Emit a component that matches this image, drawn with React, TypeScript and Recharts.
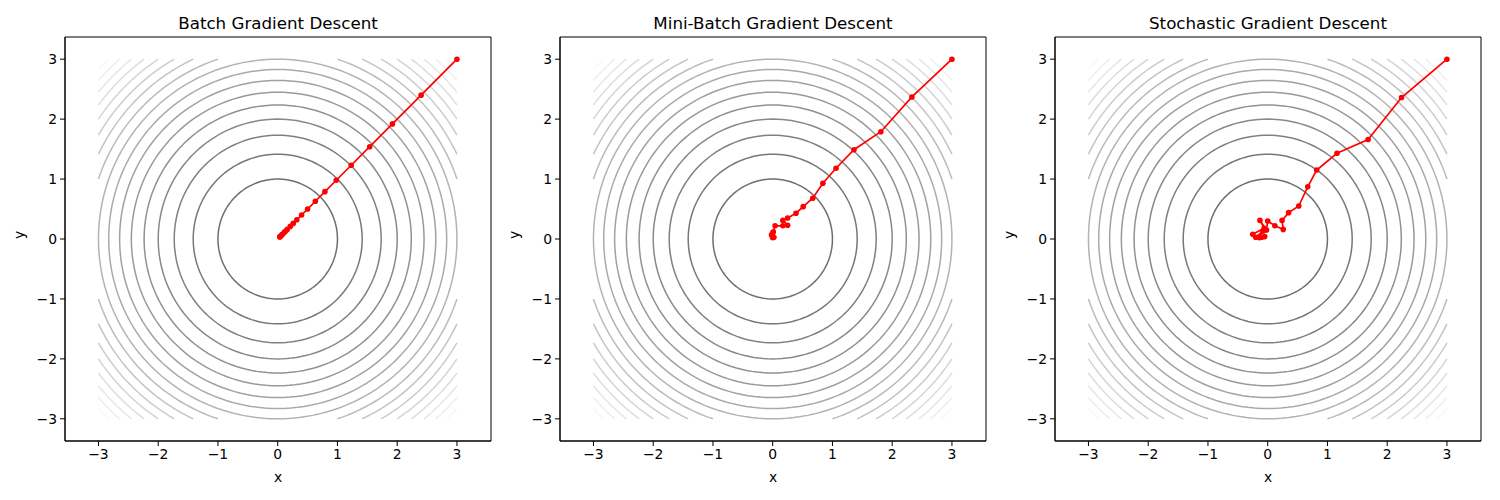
import { LineChart, Line, XAxis, YAxis, Label, ReferenceArea } from 'recharts'

// contour levels of f(x, y) = x^2 + y^2
const levels = [1, 2, 3, 4, 5, 6, 7, 8, 9, 10, 11, 12, 13, 14, 15, 16, 17]
const ticks = [-3, -2, -1, 0, 1, 2, 3]

const batchPath = [
  [3, 3], [2.4, 2.4], [1.92, 1.92], [1.54, 1.54], [1.23, 1.23], [0.98, 0.98],
  [0.79, 0.79], [0.63, 0.63], [0.5, 0.5], [0.4, 0.4], [0.32, 0.32], [0.26, 0.26],
  [0.21, 0.21], [0.16, 0.16], [0.13, 0.13], [0.11, 0.11], [0.08, 0.08],
  [0.07, 0.07], [0.05, 0.05], [0.04, 0.04], [0.035, 0.035],
]

const miniBatchPath = [
  [3, 3], [2.33, 2.37], [1.81, 1.79], [1.36, 1.49], [1.06, 1.18], [0.84, 0.93],
  [0.67, 0.68], [0.51, 0.54], [0.39, 0.43], [0.25, 0.35], [0.17, 0.31],
  [0.25, 0.23], [0.17, 0.22], [0.04, 0.22], [0.01, 0.12], [-0.02, 0.07],
  [0.0, 0.1], [0.02, 0.03], [-0.01, 0.05], [0.0, 0.02],
]

const sgdPath = [
  [3, 3], [2.24, 2.36], [1.68, 1.66], [1.16, 1.43], [0.82, 1.15], [0.67, 0.87],
  [0.52, 0.55], [0.35, 0.44], [0.24, 0.31], [0.26, 0.16], [0.12, 0.22],
  [0.0, 0.3], [-0.02, 0.15], [-0.13, 0.31], [-0.06, 0.18], [-0.25, 0.08],
  [-0.2, 0.03], [-0.08, 0.13], [-0.14, 0.02], [-0.05, 0.04], [-0.1, 0.03],
]

const panels = [
  { title: 'Batch Gradient Descent', path: batchPath },
  { title: 'Mini-Batch Gradient Descent', path: miniBatchPath },
  { title: 'Stochastic Gradient Descent', path: sgdPath },
]

const LIM = 3
const XDOM = [-3.56, 3.57]
const YDOM = [-3.37, 3.37]

// circle of a level, clipped to the [-3, 3] square of the grid
function contourArcs(level: number) {
  const r = Math.sqrt(level)
  const arcs: { x: number; y: number }[][] = []
  const arc = (a0: number, a1: number, n: number) => {
    const pts = []
    for (let i = 0; i <= n; i++) {
      const t = a0 + ((a1 - a0) * i) / n
      pts.push({ x: r * Math.cos(t), y: r * Math.sin(t) })
    }
    return pts
  }
  if (r <= LIM) {
    arcs.push(arc(0, Math.PI * 2, 160))
  } else {
    const a0 = Math.acos(LIM / r)
    const a1 = Math.asin(LIM / r)
    for (let q = 0; q < 4; q++) {
      arcs.push(arc(q * Math.PI / 2 + a0, q * Math.PI / 2 + a1, 40))
    }
  }
  return arcs
}

// gray colormap with alpha 0.6 over white
const levelColor = (level: number) => {
  const v = Math.round(255 * level / 18)
  const c = Math.round(0.6 * v + 0.4 * 255)
  return `rgb(${c},${c},${c})`
}

const fmt = (v: number) => String(v).replace('-', '\u2212')

function Panel({ title, path, left }: { title: string; path: number[][]; left: number }) {
  const pathData = path.map(([x, y]) => ({ x, y }))
  return (
    <div style={{ position: 'absolute', left, top: 0, width: 500, height: 500 }}>
      <div style={{ position: 'absolute', left: 65, width: 426, top: 13, textAlign: 'center', fontSize: 16.7 }}>
        {title}
      </div>
      <LineChart width={500} height={500} margin={{ top: 37, right: 9, left: 20, bottom: 19 }}>
        <XAxis
          type="number"
          dataKey="x"
          domain={XDOM}
          ticks={ticks}
          allowDataOverflow
          tickFormatter={fmt}
          height={40}
          tickSize={5}
          tickMargin={3}
          stroke="#000"
          tick={{ fontSize: 13.9, fill: '#000' }}
        >
          <Label value="x" position="insideBottom" offset={-1} style={{ fontSize: 13.9, fill: '#000' }} />
        </XAxis>
        <YAxis
          type="number"
          dataKey="y"
          domain={YDOM}
          ticks={ticks}
          allowDataOverflow
          tickFormatter={fmt}
          width={45}
          tickSize={5}
          tickMargin={3}
          stroke="#000"
          tick={{ fontSize: 13.9, fill: '#000' }}
        >
          <Label value="y" angle={-90} position="insideLeft" offset={-1} style={{ fontSize: 13.9, fill: '#000' }} />
        </YAxis>
        {levels.map((lv) =>
          contourArcs(lv).map((pts, k) => (
            <Line
              key={`c-${lv}-${k}`}
              data={pts}
              dataKey="y"
              type="linear"
              stroke={levelColor(lv)}
              strokeWidth={1.5}
              dot={false}
              activeDot={false}
              isAnimationActive={false}
            />
          ))
        )}
        <Line
          data={pathData}
          dataKey="y"
          type="linear"
          stroke="#ff0000"
          strokeWidth={1.7}
          dot={{ r: 2.8, fill: '#ff0000', stroke: 'none' }}
          activeDot={false}
          isAnimationActive={false}
        />
        {/* axes frame */}
        <ReferenceArea
          x1={XDOM[0]}
          x2={XDOM[1]}
          y1={YDOM[0]}
          y2={YDOM[1]}
          fill="none"
          fillOpacity={0}
          stroke="#000"
          strokeWidth={1}
          strokeOpacity={1}
        />
      </LineChart>
    </div>
  )
}

export default function App() {
  return (
    <div style={{ position: 'absolute', left: 0, top: 0, width: 1500, height: 500, background: '#fff', fontFamily: '"DejaVu Sans", sans-serif' }}>
      {panels.map((p, i) => (
        <Panel key={p.title} title={p.title} path={p.path} left={495 * i} />
      ))}
    </div>
  )
}
